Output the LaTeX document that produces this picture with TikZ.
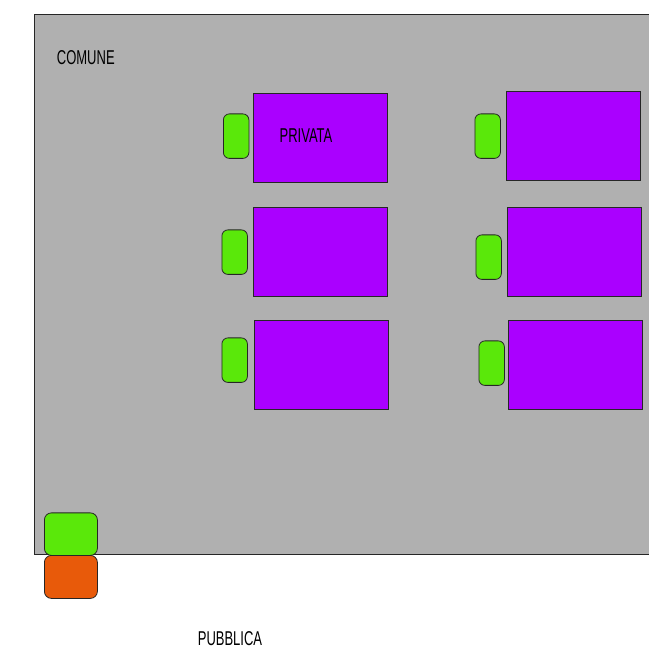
\documentclass[tikz,border=0pt]{standalone}
\usepackage{fontspec}
\setmainfont{Liberation Sans}[FakeStretch=0.65]
\definecolor{grigio}{RGB}{176,176,176}
\definecolor{viola}{RGB}{170,0,255}
\definecolor{verde}{RGB}{90,232,10}
\definecolor{arancio}{RGB}{232,90,10}
\tikzstyle{zona}=[rectangle,draw=black!85,line width=0.8pt,inner sep=0pt,anchor=north west]
\tikzstyle{lotto}=[zona,fill=viola,minimum width=134pt,minimum height=89pt]
\tikzstyle{porta}=[zona,fill=verde,rounded corners=6pt,minimum width=25.5pt,minimum height=44.5pt]
\tikzstyle{etichetta}=[anchor=base,inner sep=0pt,text=black,font=\fontsize{20}{24}\selectfont]

\begin{document}
\begin{tikzpicture}[x=1pt,y=-1pt]
\clip (0,0) rectangle (649,647);
\node[zona,fill=grigio,minimum width=640pt,minimum height=540pt] (comune) at (34,14) {};
\node[etichetta] (tComune) at (85.8,64.3) {COMUNE};
\node[lotto] (L11) at (253,93) {};
\node[lotto] (L12) at (506,91.5) {};
\node[lotto] (L21) at (253,207.5) {};
\node[lotto] (L22) at (507,207.5) {};
\node[lotto] (L31) at (254,320) {};
\node[lotto] (L32) at (508,320) {};
\node[etichetta] (tPrivata) at (306,142.7) {PRIVATA};
\node[porta] (G11) at (223,113.5) {};
\node[porta] (G12) at (474.5,113.5) {};
\node[porta] (G21) at (221.5,229.5) {};
\node[porta] (G22) at (475.5,234.5) {};
\node[porta] (G31) at (221.5,337.5) {};
\node[porta] (G32) at (478.5,340.5) {};
\node[porta,rounded corners=7pt,minimum width=53pt,minimum height=42.5pt] (GC) at (44,512.5) {};
\node[porta,fill=arancio,rounded corners=7pt,minimum width=53pt,minimum height=43pt] (GP) at (44,555) {};
\node[etichetta] (tPubblica) at (230,645) {PUBBLICA};
\end{tikzpicture}
\end{document}
